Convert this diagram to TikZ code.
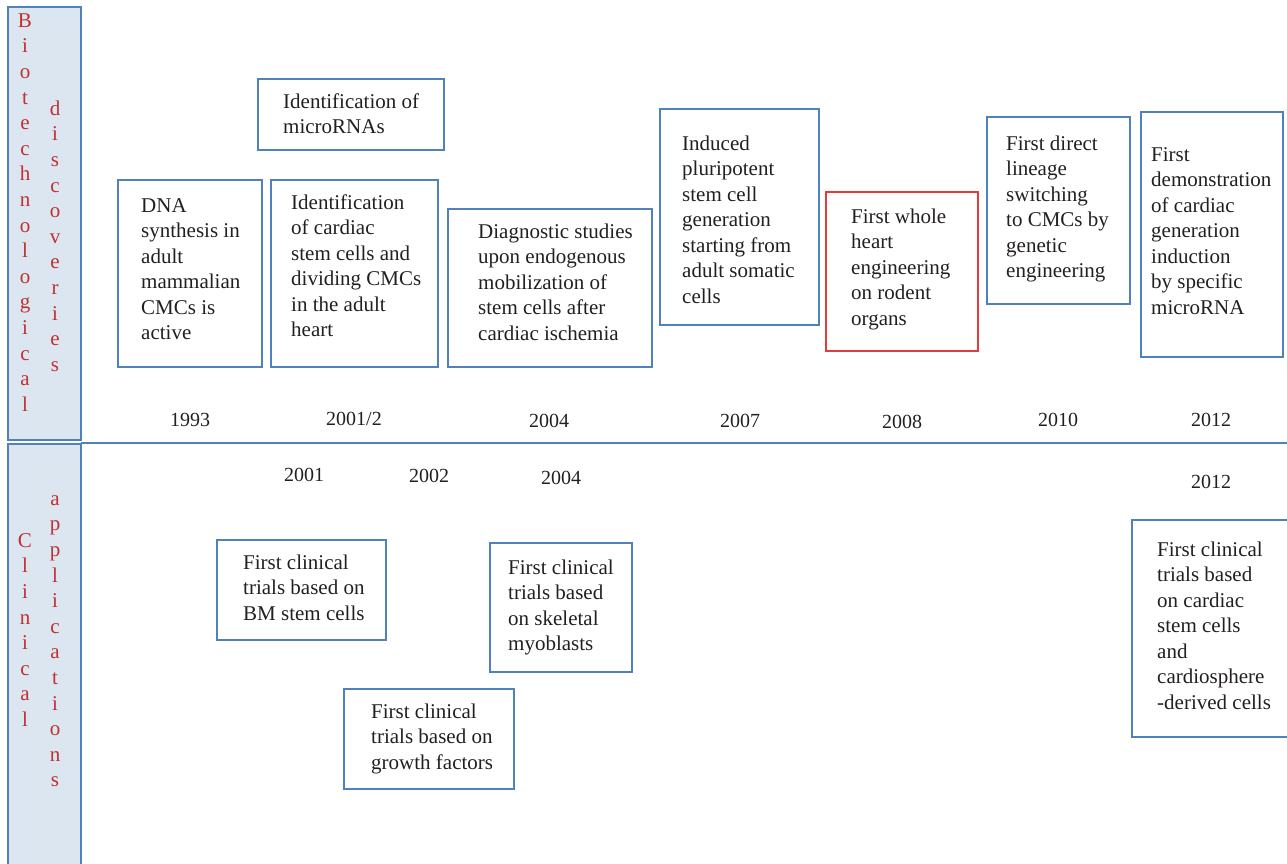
\documentclass[tikz,border=0pt]{standalone}
\usepackage{fontspec}
\setmainfont{Liberation Serif}
\definecolor{boxblue}{RGB}{79,129,189}
\definecolor{sidefill}{RGB}{220,230,241}
\definecolor{sidered}{RGB}{192,48,48}
\definecolor{txt}{RGB}{35,31,32}
\definecolor{redline}{RGB}{228,58,58}
\begin{document}
\begin{tikzpicture}[x=1pt,y=-1pt,
  evbox/.style={draw=boxblue, line width=1.05pt},
  redbox/.style={draw=redline, line width=1.05pt},
  sidebox/.style={draw=boxblue, fill=sidefill, line width=1.35pt},
  boxtext/.style={anchor=north west, inner sep=0pt, align=left, text=txt, font=\fontsize{21}{25.5}\selectfont},
  yeartext/.style={anchor=base, inner sep=0pt, text=txt, font=\fontsize{20}{24}\selectfont},
  sidetext/.style={anchor=north, inner sep=0pt, align=center, text=sidered, font=\fontsize{21}{25.6}\selectfont},
]
\useasboundingbox (0,0) rectangle (1287,863);

% sidebars
\draw[sidebox] (8,7) rectangle (81,440);
\draw[sidebox] (8,444) rectangle (81,875);
\draw[boxblue, line width=1.3pt] (81,443) -- (1287,443);

\node[sidetext] (bio) at (25,11) {\rule{0pt}{16pt}B\\i\\o\\t\\e\\c\\h\\n\\o\\l\\o\\g\\i\\c\\a\\l};
\node[sidetext] (disc) at (55,99) {\rule{0pt}{16pt}d\\i\\s\\c\\o\\v\\e\\r\\i\\e\\s};
\node[sidetext] (clin) at (25,531) {\rule{0pt}{16pt}C\\l\\i\\n\\i\\c\\a\\l};
\node[sidetext] (appl) at (55,489) {\rule{0pt}{16pt}a\\p\\p\\l\\i\\c\\a\\t\\i\\o\\n\\s};

% top row boxes
\draw[evbox] (118,180) rectangle (262,367);
\node[boxtext] (t1) at (141,196) {\rule{0pt}{16pt}DNA\\synthesis in\\adult\\mammalian\\CMCs is\\active};

\draw[evbox] (258,79) rectangle (444,150);
\node[boxtext] (t2) at (283,92) {\rule{0pt}{16pt}Identification of\\microRNAs};

\draw[evbox] (271,180) rectangle (438,367);
\node[boxtext] (t3) at (291,193) {\rule{0pt}{16pt}Identification\\of cardiac\\stem cells and\\dividing CMCs\\in the adult\\heart};

\draw[evbox] (448,209) rectangle (652,367);
\node[boxtext] (t4) at (478,222) {\rule{0pt}{16pt}Diagnostic studies\\upon endogenous\\mobilization of\\stem cells after\\cardiac ischemia};

\draw[evbox] (660,109) rectangle (819,325);
\node[boxtext] (t5) at (682,134) {\rule{0pt}{16pt}Induced\\pluripotent\\stem cell\\generation\\starting from\\adult somatic\\cells};

\draw[redbox] (826,192) rectangle (978,351);
\node[boxtext] (t6) at (851,207) {\rule{0pt}{16pt}First whole\\heart\\engineering\\on rodent\\organs};

\draw[evbox] (987,117) rectangle (1130,304);
\node[boxtext] (t7) at (1006,134) {\rule{0pt}{16pt}First direct\\lineage\\switching\\to CMCs by\\genetic\\engineering};

\draw[evbox] (1141,112) rectangle (1283,357);
\node[boxtext] (t8) at (1151,145) {\rule{0pt}{16pt}First\\demonstration\\of cardiac\\generation\\induction\\by specific\\microRNA};

% top years
\node[yeartext] (y1) at (190,426) {1993};
\node[yeartext] (y2) at (354,425) {2001/2};
\node[yeartext] (y3) at (549,427) {2004};
\node[yeartext] (y4) at (740,427) {2007};
\node[yeartext] (y5) at (902,428) {2008};
\node[yeartext] (y6) at (1058,426) {2010};
\node[yeartext] (y7) at (1211,426) {2012};

% bottom years
\node[yeartext] (z1) at (304,481) {2001};
\node[yeartext] (z2) at (429,482) {2002};
\node[yeartext] (z3) at (561,484) {2004};
\node[yeartext] (z4) at (1211,488) {2012};

% bottom boxes
\draw[evbox] (217,540) rectangle (386,640);
\node[boxtext] (c1) at (243,553) {\rule{0pt}{16pt}First clinical\\trials based on\\BM stem cells};

\draw[evbox] (344,689) rectangle (514,789);
\node[boxtext] (c2) at (371,702) {\rule{0pt}{16pt}First clinical\\trials based on\\growth factors};

\draw[evbox] (490,543) rectangle (632,672);
\node[boxtext] (c3) at (508,558) {\rule{0pt}{16pt}First clinical\\trials based\\on skeletal\\myoblasts};

\draw[evbox] (1132,520) rectangle (1300,737);
\node[boxtext] (c4) at (1157,540) {\rule{0pt}{16pt}First clinical\\trials based\\on cardiac\\stem cells\\and\\cardiosphere\\-derived cells};
\end{tikzpicture}
\end{document}
